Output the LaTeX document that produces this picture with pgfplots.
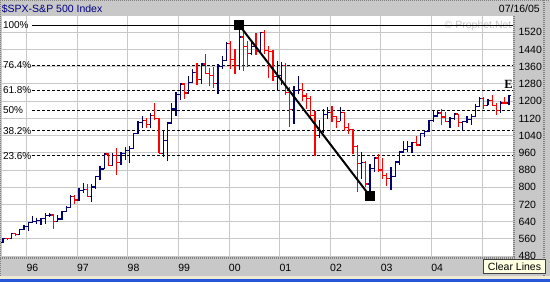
\documentclass[border=0pt]{standalone}
\usepackage{pgfplots}
\pgfplotsset{compat=1.18}
\usepackage{pgfplotstable}
\usepackage{fontspec}
\setmainfont{Liberation Sans}
\newfontfamily\serifbold{Liberation Serif}
\definecolor{panel}{HTML}{C8C8C8}
\definecolor{gridc}{HTML}{C8C8C8}
\definecolor{edgec}{HTML}{808080}
\definecolor{upc}{HTML}{000070}
\definecolor{dnc}{HTML}{FF0000}
\definecolor{navyt}{HTML}{000080}
\definecolor{wm}{HTML}{C4C4C4}
\definecolor{tip}{HTML}{FFFFE1}
\definecolor{xpblue}{HTML}{2456D8}
\definecolor{cream}{HTML}{EFEAD6}
\newcommand\fs{\fontsize{10.5}{12}\selectfont}
\newcommand\fsb{\fontsize{10}{12}\selectfont}
\pgfdeclareplotmark{otick}{\pgfpathmoveto{\pgfqpoint{-2.4pt}{0pt}}\pgfpathlineto{\pgfqpoint{0pt}{0pt}}\pgfusepathqstroke}
\pgfdeclareplotmark{ctick}{\pgfpathmoveto{\pgfqpoint{0pt}{0pt}}\pgfpathlineto{\pgfqpoint{2.4pt}{0pt}}\pgfusepathqstroke}

% monthly bars, i = months from Jan 1996; O H L C
\pgfplotstableread{
i O H L C
-6 544.75 563.84 542.51 562.06
-4 561.88 586.23 559.70 584.41
-2 581.50 607.66 579.64 605.37
-1 605.37 622.88 601.53 615.93
0 615.93 638.46 597.29 636.02
1 636.02 664.23 633.71 640.43
2 640.43 656.97 627.63 645.50
3 645.50 657.48 624.14 654.17
4 654.17 681.10 630.07 669.12
5 669.12 680.32 662.01 670.63
7 639.95 670.68 639.49 651.99
8 651.99 690.88 649.93 687.33
9 687.33 714.10 684.28 705.27
10 705.27 762.12 703.77 757.02
12 740.74 794.67 737.01 786.16
13 786.16 817.68 773.43 790.82
15 757.12 812.93 733.54 801.34
16 801.34 851.87 793.21 848.28
17 848.28 898.70 833.09 885.14
18 885.14 961.40 884.78 954.31
20 899.47 960.46 898.77 947.28
22 914.62 964.48 904.26 955.40
23 955.40 986.25 926.22 970.43
24 970.43 992.65 912.83 980.28
25 980.28 1050.40 979.50 1049.34
26 1049.34 1105.65 1046.25 1101.75
27 1101.75 1130.52 1076.70 1111.75
29 1090.82 1145.16 1074.67 1133.84
32 957.28 1066.11 939.98 1017.01
33 1017.01 1102.06 923.32 1098.67
34 1098.67 1192.97 1096.32 1163.63
35 1163.63 1244.93 1132.88 1229.23
36 1229.23 1280.80 1205.46 1279.64
38 1238.33 1316.55 1234.56 1286.37
39 1286.37 1347.76 1282.80 1335.18
41 1301.84 1372.93 1281.41 1372.71
45 1282.71 1373.17 1233.70 1362.93
46 1362.93 1410.35 1348.88 1388.91
47 1388.91 1473.10 1387.38 1469.25
50 1366.42 1552.87 1346.62 1498.58
53 1420.60 1474.63 1416.00 1454.60
55 1430.83 1518.53 1422.00 1517.68
59 1314.95 1389.06 1254.07 1320.28
60 1320.28 1383.37 1274.62 1366.01
63 1160.33 1269.30 1091.99 1249.46
64 1249.46 1315.93 1232.00 1255.82
69 1040.94 1110.61 1026.76 1059.78
70 1059.78 1163.38 1054.31 1139.45
71 1139.45 1173.62 1114.93 1148.08
74 1106.73 1173.94 1106.73 1147.39
79 911.62 965.00 837.24 916.07
81 815.28 907.44 768.63 885.76
82 885.76 941.82 871.85 936.31
86 841.15 895.90 788.90 848.18
87 848.18 924.24 847.85 916.92
88 916.92 965.38 902.83 963.59
89 963.59 1015.33 963.42 974.50
90 974.50 1015.41 962.10 990.31
91 990.31 1011.01 960.84 1008.01
93 995.97 1053.79 995.97 1050.71
94 1050.71 1063.65 1031.20 1058.20
95 1058.20 1112.56 1058.20 1111.92
96 1111.92 1155.38 1105.08 1131.13
97 1131.13 1158.98 1124.44 1144.94
100 1107.30 1127.74 1076.32 1120.68
101 1120.68 1146.34 1113.32 1140.84
103 1101.72 1108.60 1060.72 1104.24
104 1104.24 1131.54 1099.18 1114.58
105 1114.58 1142.05 1090.19 1130.20
106 1130.20 1188.46 1127.60 1173.82
107 1173.82 1217.33 1173.82 1211.92
109 1181.27 1212.44 1180.27 1203.60
112 1156.85 1199.56 1146.18 1191.50
114 1191.33 1229.44 1183.55 1227.92
}\upbars

\pgfplotstableread{
i O H L C
-5 562.06 565.33 553.04 561.88
-3 584.41 587.75 572.07 581.50
6 670.63 675.88 605.88 639.95
11 757.02 761.75 723.54 740.74
14 790.82 814.90 756.13 757.12
19 954.31 960.33 899.20 899.47
21 947.28 983.12 855.27 914.62
28 1111.75 1123.95 1074.39 1090.82
30 1133.84 1190.58 1112.44 1120.67
31 1120.67 1121.00 957.00 957.28
37 1279.64 1283.75 1211.89 1238.33
40 1335.18 1375.98 1277.31 1301.84
42 1372.71 1420.33 1328.72 1328.72
43 1328.72 1352.02 1268.37 1320.41
44 1320.41 1357.74 1263.47 1282.71
48 1469.25 1478.00 1350.14 1394.46
49 1394.46 1444.55 1325.07 1366.42
51 1498.58 1527.19 1339.40 1452.43
52 1452.43 1481.51 1361.09 1420.60
54 1454.60 1517.32 1413.89 1430.83
56 1517.68 1530.09 1419.44 1436.51
57 1436.51 1454.82 1305.79 1429.40
58 1429.40 1438.46 1294.90 1314.95
61 1366.01 1376.38 1228.33 1239.94
62 1239.94 1267.42 1081.19 1160.33
65 1255.82 1286.62 1203.03 1224.38
66 1224.38 1239.78 1165.54 1211.23
67 1211.23 1226.27 1124.87 1133.58
68 1133.58 1155.40 944.75 1040.94
72 1148.08 1176.55 1101.72 1130.20
73 1130.20 1130.20 1074.36 1106.73
75 1147.39 1147.84 1063.46 1076.92
76 1076.92 1099.29 1048.96 1067.14
77 1067.14 1070.00 952.92 989.82
78 989.82 994.46 775.68 911.62
80 916.07 924.02 800.20 815.28
83 936.31 954.28 872.00 879.82
84 879.82 935.05 840.34 855.70
85 855.70 864.64 806.29 841.15
92 1008.01 1040.29 990.36 995.97
98 1144.94 1163.23 1087.16 1126.21
99 1126.21 1150.57 1105.50 1107.30
102 1140.84 1140.84 1078.78 1101.72
108 1211.92 1217.80 1163.75 1181.27
110 1203.60 1229.11 1176.84 1180.59
111 1180.59 1191.88 1136.15 1156.85
113 1191.50 1219.59 1188.30 1191.33
}\dnbars

\begin{document}
\begin{tikzpicture}[x=1pt,y=1pt]
\useasboundingbox (0,0) rectangle (550,282);
\clip (0,0) rectangle (550,282);
\fill[panel] (0,0) rectangle (550,282);
\fill[white] (2,25.5) rectangle (513.3,266);
\fill[cream] (0,3) rectangle (550,6.5);
\fill[xpblue] (0,0) rectangle (550,3);
\node[anchor=base west, inner sep=0pt, text=navyt, font=\fs] at (1.7,269.8) {\$SPX-S\&P 500 Index};
\node[anchor=base east, inner sep=0pt, font=\fs] at (540,269.6) {07/16/05};
\begin{axis}[
  at={(2pt,25.5pt)}, anchor=south west, scale only axis,
  width=511.3pt, height=240.5pt,
  xmin=-6.24, xmax=115, ymin=478, ymax=1596,
  axis line style={draw=none}, major tick length=0pt,
  xtick={-0.4,11.6,23.6,35.6,47.6,59.6,71.6,83.6,95.6,107.6},
  xticklabels={96,97,98,99,00,01,02,03,04,{}},
  ytick={480,560,...,1520},
  yticklabels={480,560,640,720,800,880,960,1040,1120,1200,1280,1360,1440,1520},
  yticklabel pos=right,
  grid=major, major grid style={draw=gridc, line width=1pt},
  xticklabel style={anchor=west, inner sep=0pt, xshift=-0.3pt, yshift=-11.8pt, font=\fs},
  yticklabel style={anchor=west, inner sep=0pt, xshift=5pt, font=\fs},
  clip mode=individual,
]
\node[anchor=east, text=wm, font=\fs, inner sep=0pt] at (axis cs:114.6,1552) {© Prophet.Net};
% Fibonacci levels (high 1554, low 759)
\addplot[black, line width=1pt] coordinates {(0.95,1554) (115,1554)};
\addplot[black, line width=1pt, dash pattern=on 3pt off 2pt] coordinates {(0.95,1366.4) (115,1366.4)};
\addplot[black, line width=1pt, dash pattern=on 3pt off 2pt] coordinates {(0.95,1250.3) (115,1250.3)};
\addplot[black, line width=1pt, dash pattern=on 3pt off 2pt] coordinates {(0.95,1156.5) (115,1156.5)};
\addplot[black, line width=1pt, dash pattern=on 3pt off 2pt] coordinates {(0.95,1062.7) (115,1062.7)};
\addplot[black, line width=1pt, dash pattern=on 3pt off 2pt] coordinates {(0.95,946.6) (115,946.6)};
% up bars
\addplot[draw=none, mark=none, error bars/.cd, y dir=plus, y explicit, error mark=none,
  error bar style={draw=upc, line width=1.2pt, solid}]
  table[x=i, y=L, y error expr=\thisrow{H}-\thisrow{L}] {\upbars};
\addplot[only marks, mark=otick, color=upc, mark options={line width=1.2pt}] table[x=i, y=O] {\upbars};
\addplot[only marks, mark=ctick, color=upc, mark options={line width=1.2pt}] table[x=i, y=C] {\upbars};
% down bars
\addplot[draw=none, mark=none, error bars/.cd, y dir=plus, y explicit, error mark=none,
  error bar style={draw=dnc, line width=1.2pt, solid}]
  table[x=i, y=L, y error expr=\thisrow{H}-\thisrow{L}] {\dnbars};
\addplot[only marks, mark=otick, color=dnc, mark options={line width=1.2pt}] table[x=i, y=O] {\dnbars};
\addplot[only marks, mark=ctick, color=dnc, mark options={line width=1.2pt}] table[x=i, y=C] {\dnbars};
% trend line
\addplot[black, line width=2pt, mark=square*, mark size=3.9pt, mark options={solid}] coordinates {(50,1554) (81,759)};
% labels
\node[anchor=west, inner sep=0pt, font=\fsb] at (axis cs:-6.05,1554) {100\%};
\node[anchor=west, inner sep=0pt, font=\fsb] at (axis cs:-6.05,1366.4) {76.4\%};
\node[anchor=west, inner sep=0pt, font=\fsb] at (axis cs:-6.05,1250.3) {61.8\%};
\node[anchor=west, inner sep=0pt, font=\fsb] at (axis cs:-6.05,1156.5) {50\%};
\node[anchor=west, inner sep=0pt, font=\fsb] at (axis cs:-6.05,1062.7) {38.2\%};
\node[anchor=west, inner sep=0pt, font=\fsb] at (axis cs:-6.05,946.6) {23.6\%};
\node[inner sep=0pt, font=\serifbold\bfseries\fontsize{12.5}{14}\selectfont] at (axis cs:113.9,1277) {E};
\end{axis}
% panel edges
\draw[edgec, line width=2pt, dash pattern=on 1pt off 1pt] (514.3,25) -- (514.3,266);
\draw[edgec, line width=2.4pt, dash pattern=on 1pt off 1pt] (0,24.2) -- (515.3,24.2);
\draw[edgec, line width=2pt, dash pattern=on 1pt off 1pt] (544.3,6.5) -- (544.3,282);
\draw[edgec, line width=1pt, dash pattern=on 1pt off 1pt] (0,281.5) -- (550,281.5);
\draw[edgec, line width=1pt, dash pattern=on 1pt off 1pt] (0.5,6.5) -- (0.5,282);
% Clear Lines button
\draw[fill=tip, draw=black!75, line width=0.8pt] (483.5,8.7) rectangle (545.5,22.5);
\node[font=\fs, inner sep=0pt] at (514.5,15.4) {Clear Lines};
\end{tikzpicture}
\end{document}
